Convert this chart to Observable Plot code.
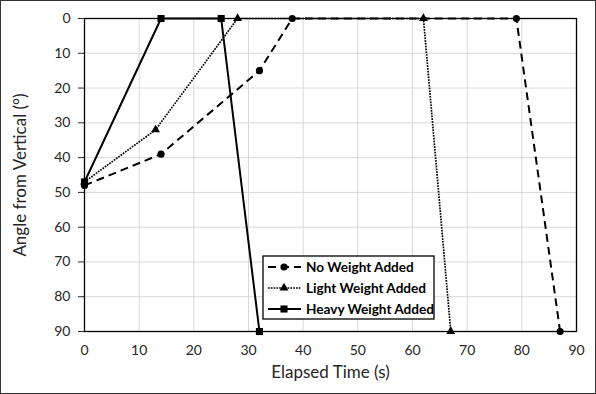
<!DOCTYPE html>
<html><head><meta charset="utf-8">
<script src="https://cdn.jsdelivr.net/npm/d3@7"></script>
<script src="https://cdn.jsdelivr.net/npm/@observablehq/plot@0.6"></script>
<style>
body{margin:0;background:#fff}
#wrap{position:relative;width:596px;height:394px;overflow:hidden}
#border{position:absolute;left:0;top:0;width:594px;height:392px;border:1px solid #333;pointer-events:none}
#wrap svg{position:absolute;left:0;top:0}
</style></head>
<body><div id="wrap"><div id="border"></div></div>
<script>
const seriesNames = ["No Weight Added", "Light Weight Added", "Heavy Weight Added"];
const noWeightTime = [0, 14, 32, 38, 79, 87];
const noWeightAngle = [48, 39, 15, 0, 0, 90];
const lightTime = [0, 13, 28, 62, 67];
const lightAngle = [47, 32, 0, 0, 90];
const heavyTime = [0, 14, 25, 32];
const heavyAngle = [47, 0, 0, 90];
const xTicks = [0, 10, 20, 30, 40, 50, 60, 70, 80, 90];
const yTicks = [0, 10, 20, 30, 40, 50, 60, 70, 80, 90];
const xLabel = "Elapsed Time (s)";
const yLabel = "Angle from Vertical (°)";

const styles = [
  {dash: "8,5", width: 2, symbol: "circle", r: 3.6},
  {dash: "1.7,1.1", width: 1.7, symbol: "triangle", r: 3.3},
  {dash: null, width: 2, symbol: "square", r: 4}
];
const toRows = (t, a, s) => t.map((v, i) => ({time: v, angle: a[i], series: s}));
const data = [
  toRows(noWeightTime, noWeightAngle, seriesNames[0]),
  toRows(lightTime, lightAngle, seriesNames[1]),
  toRows(heavyTime, heavyAngle, seriesNames[2])
];

const font = "Lato, 'Open Sans', sans-serif";
const marks = [
  Plot.gridX(xTicks, {stroke: "#d9d9d9", strokeOpacity: 1, strokeWidth: 1}),
  Plot.gridY(yTicks, {stroke: "#d9d9d9", strokeOpacity: 1, strokeWidth: 1}),
  Plot.axisX({ticks: xTicks, tickSize: 0, tickPadding: 14, fontSize: 14, label: xLabel, labelAnchor: "center", labelArrow: "none", labelOffset: 46, color: "#262626"}),
  Plot.axisY({ticks: yTicks, tickSize: 6, tickPadding: 8, fontSize: 14, label: yLabel, labelAnchor: "center", labelArrow: "none", labelOffset: 71, color: "#262626"}),
  Plot.frame({stroke: "#000", strokeWidth: 1.3})
];
data.forEach((rows, i) => {
  const s = styles[i];
  marks.push(Plot.line(rows, {x: "time", y: "angle", stroke: "#000", strokeWidth: s.width, strokeDasharray: s.dash, strokeLinecap: "butt", strokeLinejoin: "miter"}));
  marks.push(Plot.dot(rows, {x: "time", y: "angle", symbol: () => s.symbol, fill: "#000", stroke: "none", r: s.r}));
});

const chart = Plot.plot({
  width: 596, height: 394,
  marginLeft: 84, marginRight: 20, marginTop: 18, marginBottom: 63,
  style: {fontFamily: font, color: "#262626", background: "transparent"},
  x: {domain: [0, 90]},
  y: {domain: [0, 90], reverse: true},
  marks
});
document.getElementById("wrap").prepend(chart);

d3.select(chart).selectAll("[aria-label='x-axis label'] text, [aria-label='y-axis label'] text")
  .style("font-size", "17px");

// legend
const svg = d3.select(chart);
const lg = svg.append("g").attr("font-family", font).attr("text-anchor", "start");
const lx = 263, ly = 256, lw = 171, lh = 63;
lg.append("rect").attr("x", lx).attr("y", ly).attr("width", lw).attr("height", lh)
  .attr("fill", "#fff").attr("stroke", "#000").attr("stroke-width", 1.3);
const symMap = {circle: d3.symbolCircle, triangle: d3.symbolTriangle, square: d3.symbolSquare};
seriesNames.forEach((name, i) => {
  const s = styles[i];
  const cy = ly + 11 + i * 21;
  lg.append("line").attr("x1", lx + 5).attr("x2", lx + 38).attr("y1", cy).attr("y2", cy)
    .attr("stroke", "#000").attr("stroke-width", s.width).attr("stroke-dasharray", s.dash);
  lg.append("path").attr("transform", `translate(${lx + 21},${cy})`)
    .attr("d", d3.symbol(symMap[s.symbol], Math.PI * s.r * s.r)()).attr("fill", "#000");
  lg.append("text").attr("x", lx + 43).attr("y", cy).attr("dy", "0.35em")
    .attr("font-size", 13.6).attr("font-weight", "bold").attr("fill", "#000").text(name);
});
</script>
</body></html>
